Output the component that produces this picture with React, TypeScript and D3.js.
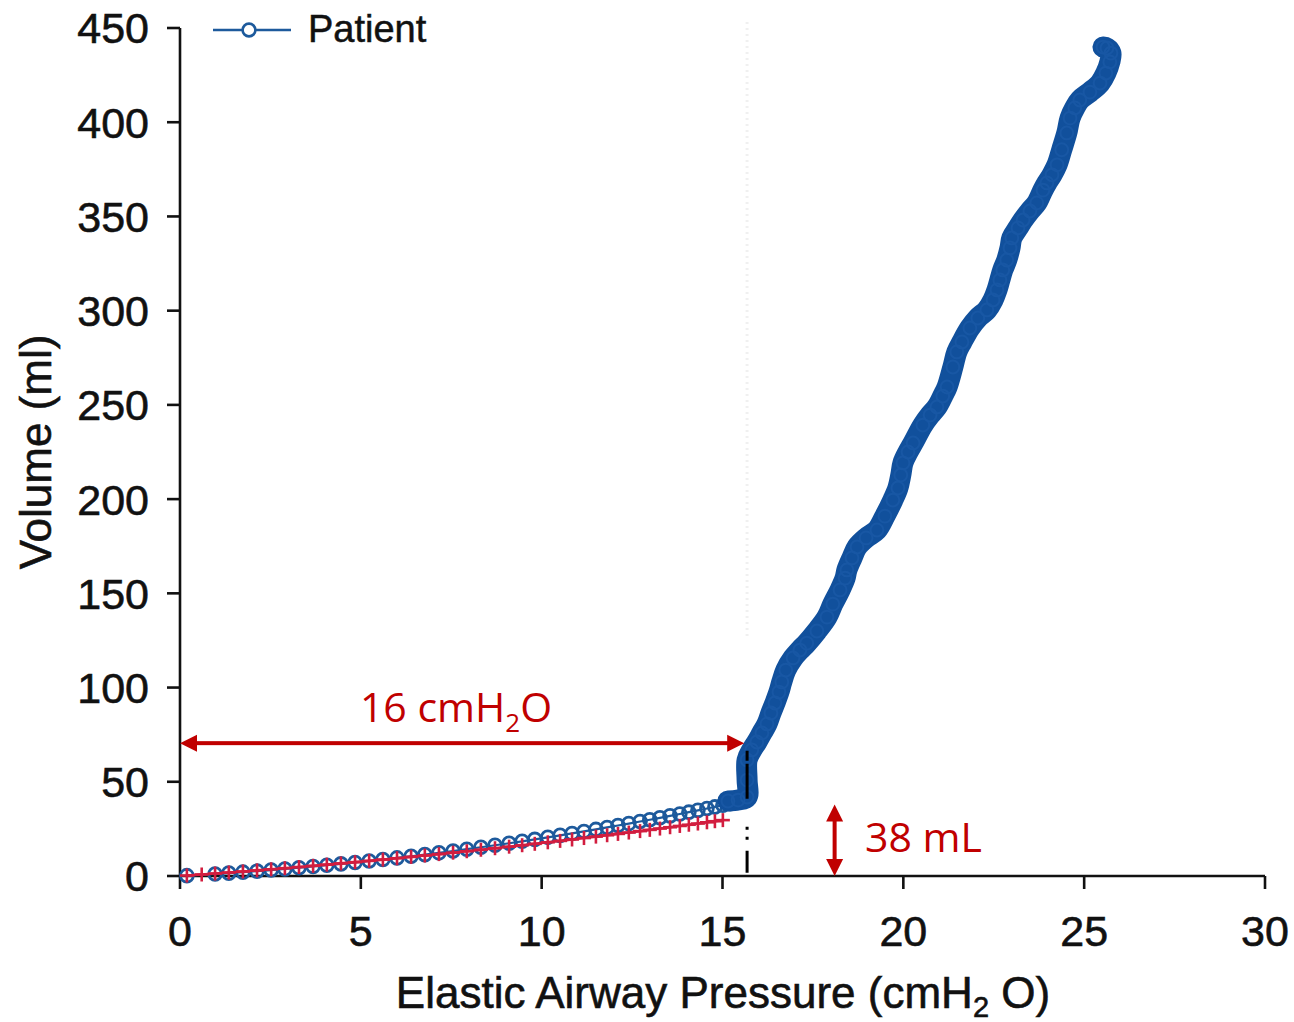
import React from "react";
import * as d3 from "d3";

// Pressure–volume curve of one patient (low-flow inflation).
// Early, sparsely sampled segment (open circles).
const patientPressureLow = [
  0.19, 0.97, 1.35, 1.74, 2.13, 2.52, 2.9, 3.29, 3.68, 4.06, 4.45, 4.84, 5.23,
  5.61, 6.0, 6.39, 6.77, 7.16, 7.55, 7.93, 8.32, 8.71, 9.1, 9.46, 9.81, 10.17,
  10.51, 10.84, 11.17, 11.5, 11.81, 12.11, 12.41, 12.72, 12.99, 13.27, 13.55,
  13.82, 14.07, 14.32, 14.57, 14.79, 15.01, 15.21,
];
const patientVolumeLow = [
  0.19, 1.06, 1.53, 2.04, 2.58, 3.16, 3.74, 4.37, 5.03, 5.71, 6.43, 7.18, 7.97,
  8.76, 9.6, 10.47, 11.35, 12.29, 13.25, 14.22, 15.24, 16.3, 17.38, 18.41,
  19.43, 20.51, 21.56, 22.59, 23.65, 24.73, 25.76, 26.78, 27.81, 28.9, 29.86,
  30.88, 31.91, 32.92, 33.87, 34.83, 35.8, 36.66, 37.54, 38.34,
];

// Densely sampled segment after the inflection (markers merge into a band).
const patientPressureHigh = [
  15.15, 15.43, 15.68, 15.68, 15.68, 15.81, 15.95, 16.09, 16.23, 16.34, 16.45,
  16.56, 16.64, 16.75, 16.95, 17.14, 17.33, 17.61, 17.89, 18.05, 18.25, 18.39,
  18.44, 18.58, 18.72, 18.97, 19.27, 19.49, 19.71, 19.85, 19.93, 19.99, 20.13,
  20.27, 20.54, 20.74, 20.93, 21.09, 21.21, 21.37, 21.48, 21.62, 21.84, 22.06,
  22.31, 22.48, 22.59, 22.67, 22.75, 22.86, 22.95, 23.0, 23.17, 23.31, 23.5,
  23.69, 23.86, 23.97, 24.11, 24.25, 24.38, 24.52, 24.61, 24.74, 24.88, 25.16,
  25.44, 25.6, 25.71, 25.74, 25.63, 25.52,
];
const patientVolumeHigh = [
  39.8, 40.3, 41.9, 50.9, 61.6, 66.9, 71.1, 75.9, 80.7, 86.5, 91.8, 97.6, 103.0,
  109.3, 115.7, 119.9, 123.6, 130.0, 137.4, 144.3, 151.8, 158.1, 162.4, 168.8,
  174.6, 179.4, 183.6, 191.0, 199.5, 205.9, 212.8, 219.2, 225.0, 229.8, 239.3,
  244.6, 248.9, 254.7, 259.5, 270.1, 278.1, 283.4, 290.8, 296.1, 300.4, 305.7,
  311.0, 316.3, 321.6, 326.9, 333.3, 338.6, 343.9, 348.1, 352.9, 357.2, 364.0,
  367.8, 372.1, 377.4, 385.4, 394.3, 402.2, 407.6, 411.8, 416.0, 420.8, 426.1,
  432.0, 436.7, 439.4, 439.9,
];

// Linear-compliance reference (red crosses).
const referencePressure = [
  0.19, 0.6, 0.97, 1.35, 1.74, 2.13, 2.52, 2.9, 3.29, 3.68, 4.06, 4.45, 4.84,
  5.23, 5.61, 6.0, 6.39, 6.77, 7.16, 7.55, 7.93, 8.32, 8.71, 9.1, 9.46, 9.81,
  10.17, 10.51, 10.84, 11.17, 11.5, 11.81, 12.11, 12.41, 12.72, 12.99, 13.27,
  13.55, 13.82, 14.07, 14.32, 14.57, 14.79, 15.01,
];
const referenceVolume = [
  0.25, 0.8, 1.3, 1.84, 2.4, 2.97, 3.56, 4.15, 4.76, 5.39, 6.02, 6.68, 7.35,
  8.03, 8.71, 9.42, 10.14, 10.86, 11.62, 12.38, 13.14, 13.93, 14.74, 15.56,
  16.33, 17.08, 17.88, 18.63, 19.38, 20.14, 20.9, 21.63, 22.34, 23.06, 23.82,
  24.48, 25.18, 25.88, 26.56, 27.2, 27.84, 28.49, 29.07, 29.65,
];

const xTicks = [0, 5, 10, 15, 20, 25, 30];
const yTicks = [0, 50, 100, 150, 200, 250, 300, 350, 400, 450];

// Annotation values
const inflectionPressure = 15.6;
const inflectionMarkerPressure = 15.68;
const inflectionMarkerTop = 66.5;
const pressureArrowVolume = 70.5;
const pressureLabel = "16 cmH";
const volumeArrowPressure = 18.1;
const volumeGain = 38;
const volumeLabel = "38 mL";

const BLUE = "#11509c";
const BLUE_RING = "#1d5a9c";
const RED_MARK = "#d21d3f";
const RED_NOTE = "#c00000";
const AXIS_FONT = "'Liberation Sans', Arial, Helvetica, sans-serif";
const NOTE_FONT = "'Open Sans', 'Noto Sans', sans-serif";

export default function App() {
  const W = 1294;
  const H = 1022;
  const x = d3.scaleLinear().domain([0, 30]).range([180, 1265]);
  const y = d3.scaleLinear().domain([0, 450]).range([876, 28]);

  const lowPts = patientPressureLow.map((p, i) => [p, patientVolumeLow[i]] as [number, number]);
  const highPts = patientPressureHigh.map((p, i) => [p, patientVolumeHigh[i]] as [number, number]);
  const refPts = referencePressure.map((p, i) => [p, referenceVolume[i]] as [number, number]);

  const line = d3
    .line<[number, number]>()
    .x((d) => x(d[0]))
    .y((d) => y(d[1]));

  const lowPath = line([...lowPts, highPts[0]]) || "";
  const highPath =
    d3
      .line<[number, number]>()
      .x((d) => x(d[0]))
      .y((d) => y(d[1]))
      .curve(d3.curveCatmullRom)(highPts) || "";
  const refPath = line(refPts) || "";

  const axisW = 2.6;
  const tickLen = 13;
  const head = 17;
  const headHalf = 8.5;

  const ax0 = x(0);
  const ax1 = x(inflectionPressure);
  const ay = y(pressureArrowVolume);
  const vx = x(volumeArrowPressure);
  const vy0 = y(0);
  const vy1 = y(volumeGain);

  return (
    <svg
      width={W}
      height={H}
      viewBox={`0 0 ${W} ${H}`}
      style={{ position: "absolute", left: 0, top: 0, background: "#fff" }}
    >
      <rect x={0} y={0} width={W} height={H} fill="#fff" />

      {/* faint guide at the inflection pressure */}
      <line
        x1={x(inflectionMarkerPressure)}
        x2={x(inflectionMarkerPressure)}
        y1={22}
        y2={640}
        stroke="#000"
        strokeOpacity={0.06}
        strokeWidth={3}
        strokeDasharray="2 4"
      />

      {/* axes */}
      <g stroke="#111" strokeWidth={axisW} fill="none">
        <line x1={x(0)} x2={x(0)} y1={y(450)} y2={y(0)} />
        <line x1={x(0)} x2={x(30)} y1={y(0)} y2={y(0)} />
        {yTicks.map((t) => (
          <line key={"yt" + t} x1={x(0) - tickLen} x2={x(0)} y1={y(t)} y2={y(t)} />
        ))}
        {xTicks.map((t) => (
          <line key={"xt" + t} x1={x(t)} x2={x(t)} y1={y(0)} y2={y(0) + tickLen} />
        ))}
      </g>
      <g fontFamily={AXIS_FONT} fontSize={43} fill="#111" stroke="#111" strokeWidth={0.6}>
        {yTicks.map((t) => (
          <text key={"yl" + t} x={149} y={y(t)} dy="0.36em" textAnchor="end">
            {t}
          </text>
        ))}
        {xTicks.map((t) => (
          <text key={"xl" + t} x={x(t)} y={946} textAnchor="middle">
            {t}
          </text>
        ))}
        <text x={723} y={1008} textAnchor="middle" fontSize={44}>
          Elastic Airway Pressure (cmH
          <tspan fontSize={29} dy={9}>2</tspan>
          <tspan dy={-9}> O)</tspan>
        </text>
        <text transform="translate(51,452) rotate(-90)" textAnchor="middle" fontSize={44}>
          Volume (ml)
        </text>
      </g>

      {/* patient curve: sparse segment */}
      <path d={lowPath} fill="none" stroke={BLUE_RING} strokeWidth={2.2} />
      {lowPts.map((d, i) => (
        <circle
          key={"c" + i}
          cx={x(d[0])}
          cy={y(d[1])}
          r={6.4}
          fill="none"
          stroke={BLUE_RING}
          strokeWidth={2.8}
        />
      ))}

      {/* patient curve: dense segment */}
      <path
        d={highPath}
        fill="none"
        stroke={BLUE}
        strokeWidth={21}
        strokeLinejoin="round"
        strokeLinecap="round"
      />
      {highPts.map((d, i) => (
        <circle
          key={"h" + i}
          cx={x(d[0])}
          cy={y(d[1])}
          r={6.4}
          fill="none"
          stroke="#1857a4"
          strokeWidth={2}
        />
      ))}

      {/* linear reference */}
      <path d={refPath} fill="none" stroke={RED_MARK} strokeWidth={2.6} />
      {refPts.map((d, i) => (
        <g key={"r" + i} stroke={RED_MARK} strokeWidth={2.6}>
          <line x1={x(d[0]) - 7} x2={x(d[0]) + 7} y1={y(d[1])} y2={y(d[1])} />
          <line x1={x(d[0])} x2={x(d[0])} y1={y(d[1]) - 7} y2={y(d[1]) + 7} />
        </g>
      ))}

      {/* inflection marker */}
      <line
        x1={x(inflectionMarkerPressure)}
        x2={x(inflectionMarkerPressure)}
        y1={y(inflectionMarkerTop)}
        y2={y(0)}
        stroke="#000"
        strokeWidth={3}
        strokeDasharray="10 3 35 28 3 7 3 11 22"
      />

      {/* pressure annotation */}
      <g fill={RED_NOTE} stroke="none">
        <rect x={ax0 + head - 1} y={ay - 2} width={ax1 - ax0 - 2 * head + 2} height={4} />
        <path d={`M${ax0},${ay} L${ax0 + head},${ay - headHalf} L${ax0 + head},${ay + headHalf} Z`} />
        <path d={`M${ax1},${ay} L${ax1 - head},${ay - headHalf} L${ax1 - head},${ay + headHalf} Z`} />
        <rect x={vx - 2} y={vy1 + head - 1} width={4} height={vy0 - vy1 - 2 * head + 2} />
        <path d={`M${vx},${vy1} L${vx - headHalf},${vy1 + head} L${vx + headHalf},${vy1 + head} Z`} />
        <path d={`M${vx},${vy0} L${vx - headHalf},${vy0 - head} L${vx + headHalf},${vy0 - head} Z`} />
      </g>
      <g fontFamily={NOTE_FONT} fontSize={41} fill={RED_NOTE}>
        <text x={456} y={722} textAnchor="middle">
          {pressureLabel}
          <tspan fontSize={26} dy={10}>2</tspan>
          <tspan dy={-10}>O</tspan>
        </text>
        <text x={865} y={852}>{volumeLabel}</text>
      </g>

      {/* legend */}
      <g>
        <line x1={213} x2={291} y1={30} y2={30} stroke={BLUE_RING} strokeWidth={2.4} />
        <circle cx={249} cy={30} r={6.4} fill="#fff" stroke={BLUE_RING} strokeWidth={2.6} />
        <text
          x={308}
          y={42}
          fontFamily={AXIS_FONT}
          fontSize={38}
          fill="#111"
          stroke="#111"
          strokeWidth={0.5}
        >
          Patient
        </text>
      </g>
    </svg>
  );
}
